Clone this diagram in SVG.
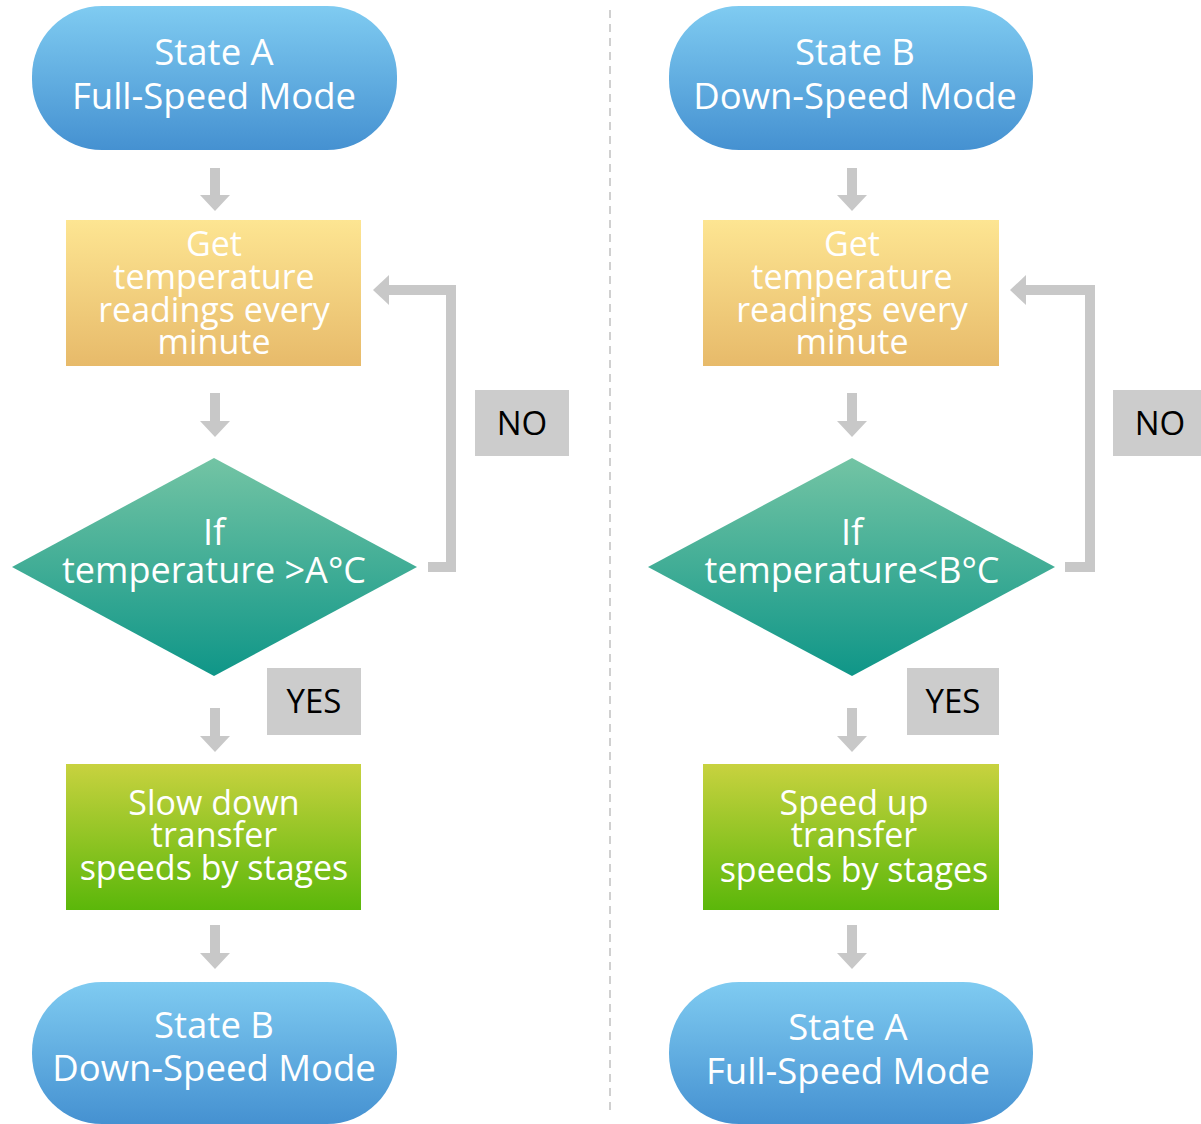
<svg xmlns="http://www.w3.org/2000/svg" width="1201" height="1124" viewBox="0 0 1201 1124">
<defs>
<linearGradient id="gBlue" x1="0" y1="0" x2="0" y2="1"><stop offset="0" stop-color="#7fcbf1"/><stop offset="1" stop-color="#4591d1"/></linearGradient>
<linearGradient id="gYel" x1="0" y1="0" x2="0" y2="1"><stop offset="0" stop-color="#fde592"/><stop offset="1" stop-color="#e7ba6a"/></linearGradient>
<linearGradient id="gTeal" x1="0" y1="0" x2="0" y2="1"><stop offset="0" stop-color="#73c4a4"/><stop offset="1" stop-color="#0f9688"/></linearGradient>
<linearGradient id="gGreen" x1="0" y1="0" x2="0" y2="1"><stop offset="0" stop-color="#c8d23f"/><stop offset="1" stop-color="#5bb70a"/></linearGradient>
<marker id="ah" viewBox="0 0 16 30" refX="0" refY="15" markerWidth="16" markerHeight="30" markerUnits="userSpaceOnUse" orient="auto"><path d="M0,0 L16,15 L0,30 z" fill="#c8c8c8"/></marker>
<style>
.t{font-family:"Open Sans","Noto Sans",sans-serif;fill:#ffffff;text-anchor:middle}
.p{font-size:36.5px}
.b{font-size:34px}
.d{font-size:36px}
.lb{fill:#cccccc}
.lt{font-family:"Open Sans","Noto Sans",sans-serif;font-size:33px;fill:#000000;text-anchor:middle}
.c{fill:none;stroke:#c8c8c8;stroke-width:10;marker-end:url(#ah)}
</style>
</defs>
<rect width="1201" height="1124" fill="#ffffff"/>
<line x1="610" y1="10" x2="610" y2="1116" stroke="#d0d0d0" stroke-width="2" stroke-dasharray="8 6"/>

<g id="connectors">
<path class="c" d="M215,168 V195"/>
<path class="c" d="M215,393 V421"/>
<path class="c" d="M215,708 V736"/>
<path class="c" d="M215,925 V953"/>
<path class="c" d="M428,567 H451 V290 H389"/>
<path class="c" d="M852,168 V195"/>
<path class="c" d="M852,393 V421"/>
<path class="c" d="M852,708 V736"/>
<path class="c" d="M852,925 V953"/>
<path class="c" d="M1065,567 H1090 V290 H1026"/>
</g>

<g id="stateA_top">
<rect x="32" y="6" width="365" height="144" rx="70" ry="70" fill="url(#gBlue)"/>
<text class="t p" x="214" y="65">State A</text>
<text class="t p" x="214" y="109">Full-Speed Mode</text>
</g>
<g id="getTempA">
<rect x="66" y="220" width="295" height="146" fill="url(#gYel)"/>
<text class="t b" x="214" y="256">Get</text>
<text class="t b" x="214" y="289">temperature</text>
<text class="t b" x="214" y="322">readings every</text>
<text class="t b" x="214" y="354">minute</text>
</g>
<g id="ifA">
<polygon points="214,458 417,567 214,676 12,567" fill="url(#gTeal)"/>
<text class="t d" x="214" y="545">If</text>
<text class="t d" x="214" y="583">temperature &gt;A°C</text>
</g>
<g id="noA">
<rect class="lb" x="475" y="390" width="94" height="66"/>
<text class="lt" x="522" y="435">NO</text>
</g>
<g id="yesA">
<rect class="lb" x="267" y="668" width="94" height="67"/>
<text class="lt" x="314" y="713">YES</text>
</g>
<g id="slowDown">
<rect x="66" y="764" width="295" height="146" fill="url(#gGreen)"/>
<text class="t b" x="214" y="815">Slow down</text>
<text class="t b" x="214" y="847">transfer</text>
<text class="t b" x="214" y="880">speeds by stages</text>
</g>
<g id="stateB_bottom">
<rect x="32" y="982" width="365" height="142" rx="70" ry="70" fill="url(#gBlue)"/>
<text class="t p" x="214" y="1038">State B</text>
<text class="t p" x="214" y="1081">Down-Speed Mode</text>
</g>

<g id="stateB_top">
<rect x="669" y="6" width="364" height="144" rx="70" ry="70" fill="url(#gBlue)"/>
<text class="t p" x="855" y="65">State B</text>
<text class="t p" x="855" y="109">Down-Speed Mode</text>
</g>
<g id="getTempB">
<rect x="703" y="220" width="296" height="146" fill="url(#gYel)"/>
<text class="t b" x="852" y="256">Get</text>
<text class="t b" x="852" y="289">temperature</text>
<text class="t b" x="852" y="322">readings every</text>
<text class="t b" x="852" y="354">minute</text>
</g>
<g id="ifB">
<polygon points="852,458 1055,567 852,676 648,567" fill="url(#gTeal)"/>
<text class="t d" x="852" y="545">If</text>
<text class="t d" x="852" y="583">temperature&lt;B°C</text>
</g>
<g id="noB">
<rect class="lb" x="1113" y="390" width="94" height="66"/>
<text class="lt" x="1160" y="435">NO</text>
</g>
<g id="yesB">
<rect class="lb" x="907" y="668" width="92" height="67"/>
<text class="lt" x="953" y="713">YES</text>
</g>
<g id="speedUp">
<rect x="703" y="764" width="296" height="146" fill="url(#gGreen)"/>
<text class="t b" x="854" y="815">Speed up</text>
<text class="t b" x="854" y="847">transfer</text>
<text class="t b" x="854" y="882">speeds by stages</text>
</g>
<g id="stateA_bottom">
<rect x="669" y="982" width="364" height="142" rx="70" ry="70" fill="url(#gBlue)"/>
<text class="t p" x="848" y="1040">State A</text>
<text class="t p" x="848" y="1084">Full-Speed Mode</text>
</g>
</svg>
